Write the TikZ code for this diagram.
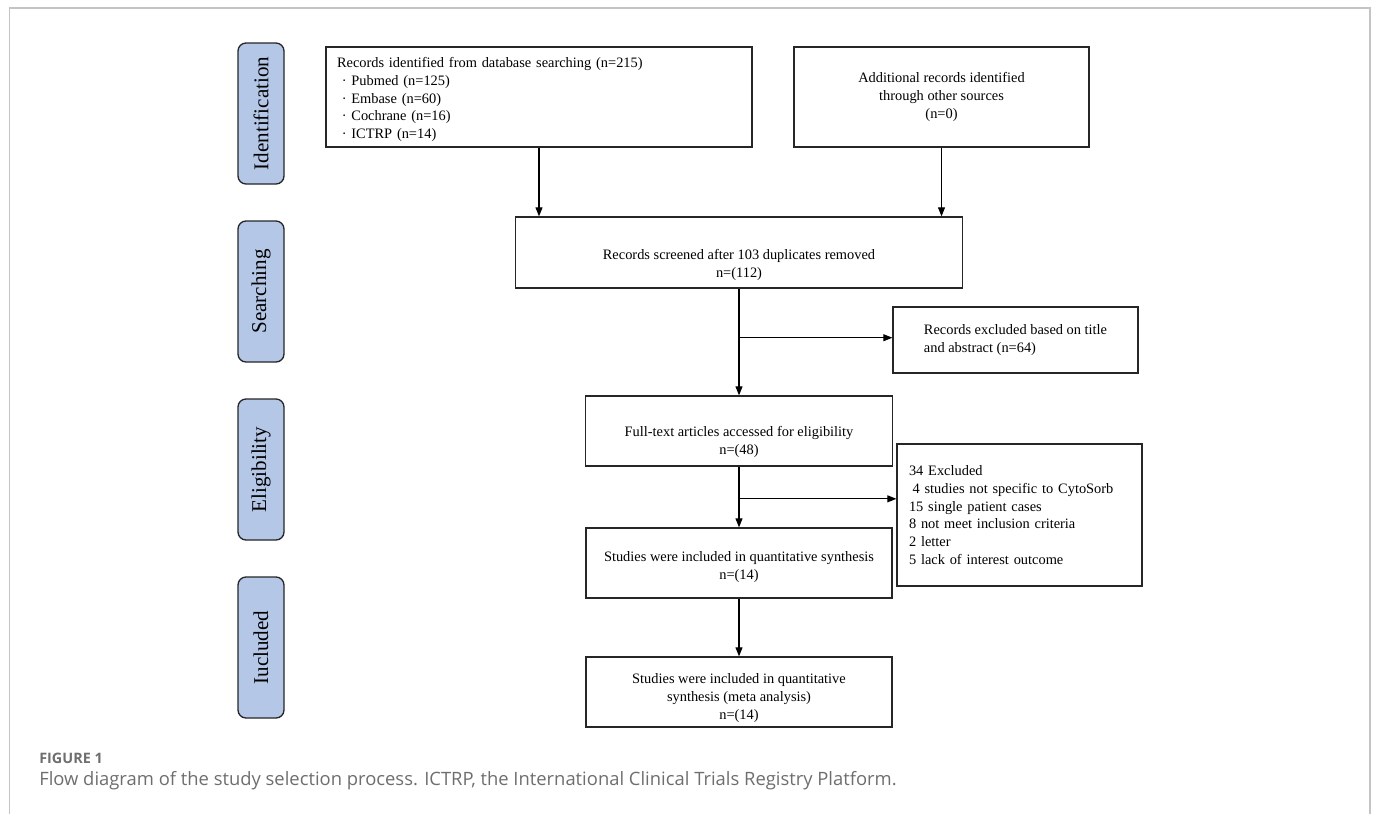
\documentclass[tikz,border=0pt]{standalone}
\usepackage{fontspec}
\setmainfont{Liberation Serif}
\newfontfamily\capfont{Open Sans}
\usetikzlibrary{arrows.meta,calc,positioning}
\definecolor{stageblue}{HTML}{B4C7E7}
\definecolor{framegray}{HTML}{C4C4C4}
\definecolor{capgray}{HTML}{6E6E6E}
\newcommand{\padtop}[1]{\rule{0pt}{#1}}
\tikzstyle{stage} = [rectangle, rounded corners=6pt, rotate=90, minimum width=105.75pt, minimum height=34.5pt, text centered, draw=black!85, line width=1pt, fill=stageblue, font=\fontsize{15.8}{18}\selectfont]
\tikzstyle{box} = [rectangle, inner sep=0pt, align=center, draw=black!85, line width=0.9pt, font=\fontsize{10.8}{13.3}\selectfont]
\tikzstyle{caption} = [anchor=west, inner sep=0pt, text=capgray]
\tikzstyle{arrow} = [line width=0.9pt, -{Triangle[length=6.8pt,width=5.2pt]}]

\begin{document}
\begin{tikzpicture}[x=0.75pt, y=-0.75pt]

	\useasboundingbox (0,0) rectangle (1373,814);
	\draw[framegray, line width=1pt] (9.5,814) -- (9.5,8) -- (1370,8) -- (1370,814);

	% stages
	\node (ident) [stage] at (261,113.5) {Identification};
	\node (search) [stage] at (261,291.5) {Searching};
	\node (elig) [stage] at (261,469.5) {Eligibility};
	\node (incl) [stage] at (261,647.5) {Iucluded};

	\node (rec) [box, minimum width=319.5pt, minimum height=75pt, text width=303pt, align=left] at (539,97) {\padtop{11.5pt}Records identified from database searching (n=215)\\
		\makebox[1em]{·}Pubmed (n=125)\\
		\makebox[1em]{·}Embase (n=60)\\
		\makebox[1em]{·}Cochrane (n=16)\\
		\makebox[1em]{·}ICTRP (n=14)};

	\node (add) [box, minimum width=221.25pt, minimum height=75pt] at (941.5,97) {Additional records identified\\through other sources\\(n=0)};

	\node (screen) [box, minimum width=335.25pt, minimum height=53.25pt] at (739,252.5) {\padtop{26pt}Records screened after 103 duplicates removed\\n=(112)};

	\node (excl1) [box, minimum width=183.75pt, minimum height=49.5pt, align=left] at (1015.5,340) {Records excluded based on title\\and abstract (n=64)};

	\node (full) [box, minimum width=230.25pt, minimum height=52.5pt] at (739,431) {\padtop{24pt}Full-text articles accessed for eligibility\\n=(48)};

	\node (excl2) [box, minimum width=183.75pt, minimum height=106.5pt, text width=165.75pt, align=left] at (1019.5,515) {34 Excluded\\
		\hspace*{0.25em}4 studies not specific to CytoSorb\\
		15 single patient cases\\
		8 not meet inclusion criteria\\
		2 letter\\
		5 lack of interest outcome};

	\node (studies) [box, minimum width=229.5pt, minimum height=52.5pt] at (739,563) {\padtop{14pt}Studies were included in quantitative synthesis\\n=(14)};

	\node (meta) [box, minimum width=229.5pt, minimum height=52.5pt, font=\fontsize{10.8}{13.6}\selectfont] at (739,692) {\padtop{16.5pt}Studies were included in quantitative\\synthesis (meta analysis)\\n=(14)};

	\coordinate (b1) at ($(screen.south)!0.46!(full.north)$);
	\coordinate (b2) at ($(full.south)!0.53!(studies.north)$);

	\draw[arrow] (rec) -- (rec |- screen.north);
	\draw[arrow] (add) -- (add |- screen.north);
	\draw[arrow] (screen) -- (full);
	\draw[arrow] (b1) -- (b1 -| excl1.west);
	\draw[arrow] (full) -- (studies);
	\draw[arrow] (b2) -- (b2 -| excl2.west);
	\draw[arrow] (studies) -- (meta);

	% caption
	\node (figlab) [caption, font=\capfont\bfseries\fontsize{10.8}{12}\selectfont] at (39,758) {FIGURE 1};
	\node (figtext) [caption, font=\capfont\fontsize{13.8}{15}\selectfont] at (39,781) {Flow diagram of the study selection process. ICTRP, the International Clinical Trials Registry Platform.};

\end{tikzpicture}
\end{document}
